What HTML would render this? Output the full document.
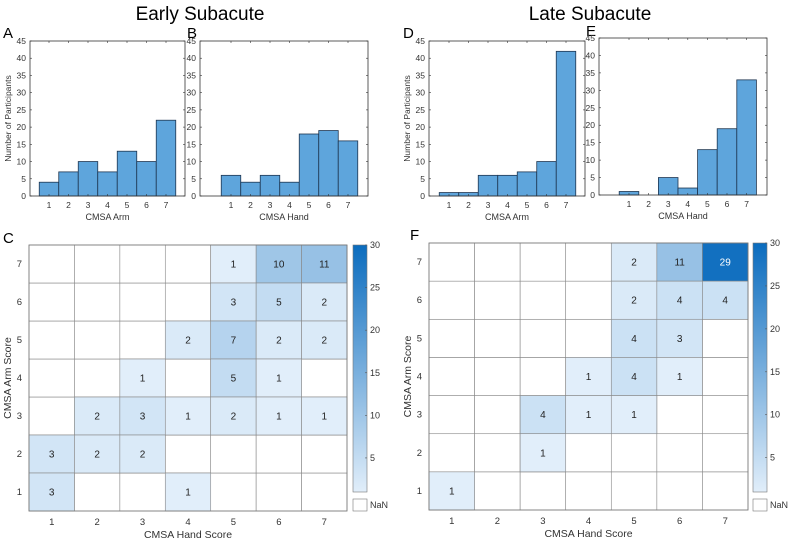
<!DOCTYPE html>
<html><head><meta charset="utf-8"><style>
body{margin:0;background:#fff}
svg{display:block;font-family:"Liberation Sans",sans-serif}
</style></head><body>
<svg id="fig" width="793" height="544" viewBox="0 0 793 544" xmlns="http://www.w3.org/2000/svg">
<text x="200" y="20" font-size="19" text-anchor="middle">Early Subacute</text>
<text x="590" y="20" font-size="19" text-anchor="middle">Late Subacute</text>
<text x="3" y="38" font-size="15">A</text>
<text x="187" y="38" font-size="15">B</text>
<text x="403" y="38" font-size="15">D</text>
<text x="586" y="36" font-size="15">E</text>
<text x="3" y="243" font-size="15">C</text>
<text x="410" y="240" font-size="15">F</text>
</svg>
<script>
const histCategories=[1,2,3,4,5,6,7];
const histYTicks=[0,5,10,15,20,25,30,35,40,45];
const armEarly=[4,7,10,7,13,10,22];
const handEarly=[6,4,6,4,18,19,16];
const armLate=[1,1,6,6,7,10,42];
const handLate=[1,0,5,2,13,19,33];
const heatHand=[1,2,3,4,5,6,7];
const heatArm=[1,2,3,4,5,6,7];
const heatEarly=[[5,7,1],[6,7,10],[7,7,11],[5,6,3],[6,6,5],[7,6,2],[4,5,2],[5,5,7],[6,5,2],[7,5,2],[3,4,1],[5,4,5],[6,4,1],[2,3,2],[3,3,3],[4,3,1],[5,3,2],[6,3,1],[7,3,1],[1,2,3],[2,2,2],[3,2,2],[1,1,3],[4,1,1]];
const heatLate=[[5,7,2],[6,7,11],[7,7,29],[5,6,2],[6,6,4],[7,6,4],[5,5,4],[6,5,3],[4,4,1],[5,4,4],[6,4,1],[3,3,4],[4,3,1],[5,3,1],[3,2,1],[1,1,1]];
const cbTicks=[5,10,15,20,25,30];

const svg=document.getElementById('fig');
const NS='http://www.w3.org/2000/svg';
function mk(tag,attrs,parent){const e=document.createElementNS(NS,tag);for(const k in attrs)e.setAttribute(k,attrs[k]);(parent||svg).appendChild(e);return e;}

function hist(id,box,c1,step,vals,xlabel,ylabel){
  const g=mk('g',{});
  
  
  const [L,T,R,B]=box;
  const y=v=>B-(v/45)*(B-T);
  const x=v=>c1+(v-1)*step;
  histYTicks.forEach(t=>{
    const tx=mk('text',{x:L-4,y:y(t)+3,'font-size':8.5,'text-anchor':'end',fill:'#333'},g);tx.textContent=t;
    
    
    mk('line',{x1:L,x2:L+2,y1:y(t),y2:y(t),stroke:'#333','stroke-width':0.6},g);
    mk('line',{x1:R,x2:R-2,y1:y(t),y2:y(t),stroke:'#333','stroke-width':0.6},g);
  });
  histCategories.forEach((c,i)=>{
    const r=mk('rect',{x:x(c)-step/2,y:y(vals[i]),width:step,height:B-y(vals[i]),fill:'#5ea5dc',stroke:'#1d3550','stroke-width':0.8},g);
    
    
    const tx=mk('text',{x:x(c),y:B+12,'font-size':8.5,'text-anchor':'middle',fill:'#333'},g);tx.textContent=c;
    
    
    mk('line',{x1:x(c),x2:x(c),y1:B,y2:B-2,stroke:'#333','stroke-width':0.6},g);
    mk('line',{x1:x(c),x2:x(c),y1:T,y2:T+2,stroke:'#333','stroke-width':0.6},g);
  });
  const fr=mk('rect',{x:L,y:T,width:R-L,height:B-T,fill:'none',stroke:'#333','stroke-width':0.8},g);
  
  
  const xl=mk('text',{x:(L+R)/2,y:B+24,'font-size':9,'text-anchor':'middle',fill:'#333'},g);xl.textContent=xlabel;
  
  
  if(ylabel){const yl=mk('text',{x:0,y:0,'font-size':8.5,'text-anchor':'middle',fill:'#333',transform:`translate(${L-19},${(T+B)/2}) rotate(-90)`},g);yl.textContent=ylabel;
  
  }
}
hist('hist-early-arm',[30,41,185,196],49,19.5,armEarly,'CMSA Arm','Number of Participants');
hist('hist-early-hand',[200,41,368,196],231,19.5,handEarly,'CMSA Hand',null);
hist('hist-late-arm',[429,41,585,196],449,19.5,armLate,'CMSA Arm','Number of Participants');
hist('hist-late-hand',[599,38,767,195],629,19.6,handLate,'CMSA Hand',null);

function col(v){const t=Math.max(0,Math.min(1,(v-1)/29));
  const a=[225,238,250],b=[11,108,190];
  return `rgb(${a.map((c,i)=>Math.round(c+(b[i]-c)*t)).join(',')})`;}

function heat(id,box,cb,data){
  const g=mk('g',{});
  
  
  const [L,T,R,B]=box;
  const cw=(R-L)/7,ch=(B-T)/7;
  const cx=h=>L+(h-1)*cw, cy=a=>T+(7-a)*ch;
  heatHand.forEach(h=>heatArm.forEach(a=>{mk('rect',{x:cx(h),y:cy(a),width:cw,height:ch,fill:'#fff',stroke:'#888','stroke-width':0.6},g);}));
  data.forEach(d=>{
    const r=mk('rect',{x:cx(d[0]),y:cy(d[1]),width:cw,height:ch,fill:col(d[2]),stroke:'#888','stroke-width':0.6},g);
    
    
    const tx=mk('text',{x:cx(d[0])+cw/2,y:cy(d[1])+ch/2+3.5,'font-size':10,'text-anchor':'middle',fill:d[2]>20?'#fff':'#222'},g);tx.textContent=d[2];
    
    
  });
  mk('rect',{x:L,y:T,width:R-L,height:B-T,fill:'none',stroke:'#777','stroke-width':0.8},g);
  heatHand.forEach(h=>{const tx=mk('text',{x:cx(h)+cw/2,y:B+14,'font-size':9.5,'text-anchor':'middle',fill:'#333'},g);tx.textContent=h;
    
    });
  heatArm.forEach(a=>{const tx=mk('text',{x:L-7,y:cy(a)+ch/2+3,'font-size':9.5,'text-anchor':'end',fill:'#333'},g);tx.textContent=a;
    
    });
  const xl=mk('text',{x:(L+R)/2,y:B+27,'font-size':10.5,'text-anchor':'middle',fill:'#333'},g);xl.textContent='CMSA Hand Score';
  
  
  const yl=mk('text',{x:0,y:0,'font-size':10.5,'text-anchor':'middle',fill:'#333',transform:`translate(${L-18},${(T+B)/2}) rotate(-90)`},g);yl.textContent='CMSA Arm Score';
  
  
  const [cL,cR,cT,cB]=cb;
  const defsId='grad-'+id;
  const defs=mk('defs',{},g);
  const lg=mk('linearGradient',{id:defsId,x1:0,y1:1,x2:0,y2:0},defs);
  mk('stop',{offset:0,'stop-color':col(1)},lg);mk('stop',{offset:1,'stop-color':col(30)},lg);
  const cbr=mk('rect',{x:cL,y:cT,width:cR-cL,height:cB-cT,fill:`url(#${defsId})`,stroke:'#777','stroke-width':0.6},g);
  
  
  const yv=v=>cB-(v-1)/29*(cB-cT);
  cbTicks.forEach(t=>{mk('line',{x1:cR-2,x2:cR,y1:yv(t),y2:yv(t),stroke:'#555','stroke-width':0.6},g);
    const tx=mk('text',{x:cR+3,y:yv(t)+3,'font-size':9,fill:'#333'},g);tx.textContent=t;
    
    });
  const nb=mk('rect',{x:cL,y:cB+7,width:cR-cL,height:12,fill:'#fff',stroke:'#777','stroke-width':0.6},g);
  
  
  const nt=mk('text',{x:cR+3,y:cB+16,'font-size':9,fill:'#333'},g);nt.textContent='NaN';
  
  
}
heat('heatmap-early',[29,245,347,511],[353,367,245,492],heatEarly);
heat('heatmap-late',[429,243,748,510],[753,767,243,492],heatLate);
</script>
</body></html>
